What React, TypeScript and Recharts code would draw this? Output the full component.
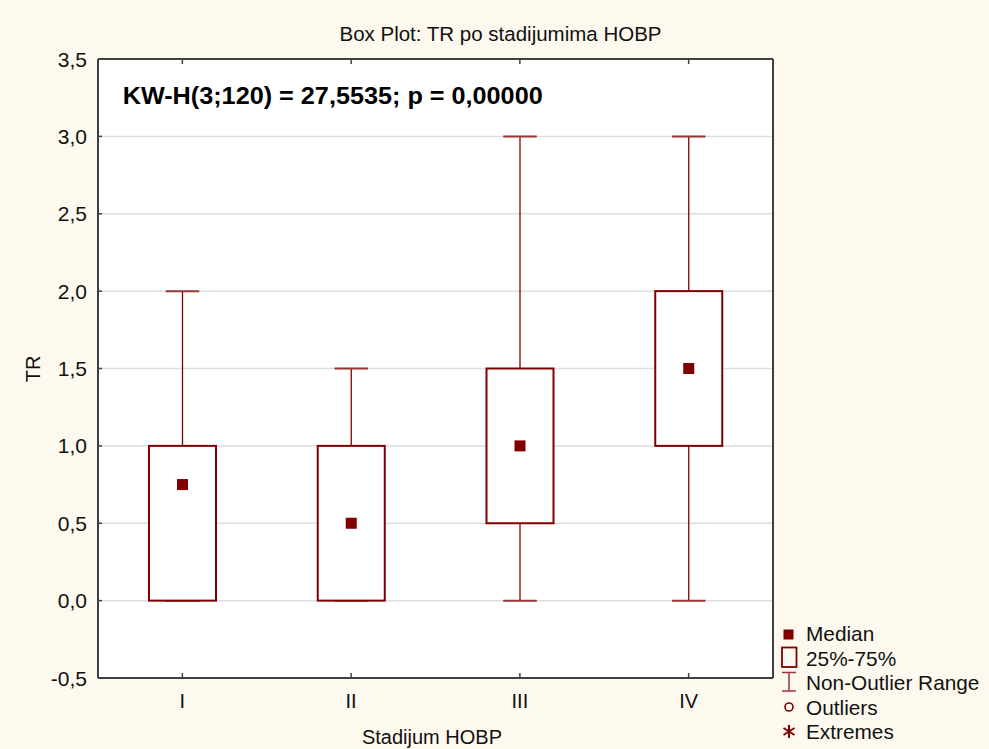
import React from 'react';
import { ComposedChart, Bar, XAxis, YAxis, CartesianGrid } from 'recharts';

const categories = ['I', 'II', 'III', 'IV'];
const mins = [0, 0, 0, 0];
const q1s = [0, 0, 0.5, 1.0];
const medians = [0.75, 0.5, 1.0, 1.5];
const q3s = [1.0, 1.0, 1.5, 2.0];
const maxs = [2.0, 1.5, 3.0, 3.0];
const yTicks = [-0.5, 0, 0.5, 1.0, 1.5, 2.0, 2.5, 3.0, 3.5];

const title = 'Box Plot: TR po stadijumima HOBP';
const statText = 'KW-H(3;120) = 27,5535; p = 0,00000';
const xLabel = 'Stadijum HOBP';
const yLabel = 'TR';
const legendItems = ['Median', '25%-75%', 'Non-Outlier Range', 'Outliers', 'Extremes'];

const data = categories.map((name, i) => ({
  name,
  min: mins[i],
  q1: q1s[i],
  median: medians[i],
  q3: q3s[i],
  max: maxs[i],
}));

const RED = '#800000';
const CAP = '#9a3535';
const AXIS = '#404040';
const FONT = '"Liberation Sans", Arial, sans-serif';
const fmt = (v: number) => v.toFixed(1).replace('.', ',');

function BoxShape(props: any) {
  const { x, y, width, height, payload } = props;
  const d = payload;
  const top = Math.min(y, y + height);
  const bottom = Math.max(y, y + height);
  const span = d.max - d.min;
  const per = span > 0 ? (bottom - top) / span : 0;
  const py = (v: number) => bottom - (v - d.min) * per;
  const cx = x + width / 2;
  const capW = width / 2;
  const yMax = py(d.max);
  const yQ3 = py(d.q3);
  const yQ1 = py(d.q1);
  const yMin = py(d.min);
  const yMed = py(d.median);
  return (
    <g>
      <line x1={cx} x2={cx} y1={yMax} y2={yQ3} stroke={RED} strokeWidth={1.3} />
      <line x1={cx} x2={cx} y1={yQ1} y2={yMin} stroke={RED} strokeWidth={1.3} />
      <line x1={cx - capW / 2} x2={cx + capW / 2} y1={yMax} y2={yMax} stroke={CAP} strokeWidth={2} />
      <line x1={cx - capW / 2} x2={cx + capW / 2} y1={yMin} y2={yMin} stroke={CAP} strokeWidth={2} />
      <rect x={x} y={yQ3} width={width} height={yQ1 - yQ3} fill="#ffffff" stroke={RED} strokeWidth={2} />
      <rect x={cx - 5.5} y={yMed - 5.5} width={11} height={11} fill={RED} />
    </g>
  );
}

function LeftTick(props: any) {
  const { x, y, payload } = props;
  return (
    <g>
      <text x={x - 11} y={y} dy={7.5} textAnchor="end" fontSize={21} fontFamily={FONT} fill="#111">
        {fmt(payload.value)}
      </text>
      <line x1={x} x2={x + 4} y1={y} y2={y} stroke={AXIS} strokeWidth={1.5} />
    </g>
  );
}

function RightTick(props: any) {
  const { x, y } = props;
  return <line x1={x} x2={x - 4} y1={y} y2={y} stroke={AXIS} strokeWidth={1.5} />;
}

function BottomTick(props: any) {
  const { x, y, payload } = props;
  return (
    <g>
      <text x={x} y={y + 30} textAnchor="middle" fontSize={20} fontFamily={FONT} fill="#111">
        {payload.value}
      </text>
      <line x1={x} x2={x} y1={y} y2={y - 5} stroke={AXIS} strokeWidth={1.5} />
    </g>
  );
}

function TopTick(props: any) {
  const { x, y } = props;
  return <line x1={x} x2={x} y1={y} y2={y + 5} stroke={AXIS} strokeWidth={1.5} />;
}

function Overlay() {
  const lx = 789;
  const baseY = 641;
  const step = 24.5;
  return (
    <svg
      width={989}
      height={749}
      style={{ position: 'absolute', left: 0, top: 0, pointerEvents: 'none' }}
      fontFamily={FONT}
    >
      <text x={500.5} y={41} textAnchor="middle" fontSize={20.5} fill="#111">{title}</text>
      <text x={122.7} y={104} fontSize={24} fontWeight="bold" fill="#000" textLength={420} lengthAdjust="spacingAndGlyphs">
        {statText}
      </text>
      <text x={432} y={744} textAnchor="middle" fontSize={20} fill="#111">{xLabel}</text>
      <text transform="translate(40,369) rotate(-90)" textAnchor="middle" fontSize={20} fill="#111">{yLabel}</text>
      <rect x={lx - 5.5} y={baseY - 11.5} width={10} height={10} fill={RED} />
      <rect x={lx - 7} y={baseY + step - 18} width={14.5} height={19.5} fill="none" stroke={RED} strokeWidth={1.8} />
      <g stroke={CAP} strokeWidth={1.5}>
        <line x1={lx - 7} x2={lx + 7} y1={baseY + 2 * step - 17.5} y2={baseY + 2 * step - 17.5} />
        <line x1={lx} x2={lx} y1={baseY + 2 * step - 17.5} y2={baseY + 2 * step + 1} />
        <line x1={lx - 7} x2={lx + 7} y1={baseY + 2 * step + 1} y2={baseY + 2 * step + 1} />
      </g>
      <circle cx={lx} cy={baseY + 3 * step - 7.5} r={4} fill="none" stroke={RED} strokeWidth={1.6} />
      <g stroke={RED} strokeWidth={2}>
        <line x1={lx} x2={lx} y1={baseY + 4 * step - 14} y2={baseY + 4 * step - 1} />
        <line x1={lx - 5.5} x2={lx + 5.5} y1={baseY + 4 * step - 11} y2={baseY + 4 * step - 4} />
        <line x1={lx - 5.5} x2={lx + 5.5} y1={baseY + 4 * step - 4} y2={baseY + 4 * step - 11} />
      </g>
      {legendItems.map((t, i) => (
        <text key={t} x={806} y={baseY + i * step} fontSize={20.8} fill="#111">{t}</text>
      ))}
    </svg>
  );
}

export default function App() {
  return (
    <div style={{ position: 'absolute', left: 0, top: 0, width: 989, height: 749, background: '#FDF9EE', overflow: 'hidden' }}>
      <ComposedChart
        width={989}
        height={749}
        data={data}
        margin={{ top: 58, right: 215, bottom: 0, left: 0 }}
      >
        <CartesianGrid horizontal vertical={false} fill="#ffffff" stroke="#dedede" strokeWidth={1.5} />
        <XAxis
          dataKey="name"
          height={71}
          tickSize={0}
          tickMargin={0}
          tickLine={false}
          axisLine={{ stroke: AXIS, strokeWidth: 2 }}
          tick={<BottomTick />}
        />
        <XAxis
          xAxisId="top"
          orientation="top"
          dataKey="name"
          height={1}
          tickSize={0}
          tickMargin={0}
          tickLine={false}
          axisLine={{ stroke: AXIS, strokeWidth: 2 }}
          tick={<TopTick />}
        />
        <YAxis
          type="number"
          domain={[-0.5, 3.5]}
          ticks={yTicks}
          width={98}
          tickSize={0}
          tickMargin={0}
          tickLine={false}
          interval={0}
          axisLine={{ stroke: AXIS, strokeWidth: 2 }}
          tick={<LeftTick />}
        />
        <YAxis
          yAxisId="right"
          orientation="right"
          type="number"
          domain={[-0.5, 3.5]}
          ticks={yTicks}
          width={1}
          tickSize={0}
          tickMargin={0}
          tickLine={false}
          interval={0}
          axisLine={{ stroke: AXIS, strokeWidth: 2 }}
          tick={<RightTick />}
        />
        <Bar
          dataKey={(d: any) => [d.min, d.max]}
          barSize={67}
          isAnimationActive={false}
          shape={(p: any) => <BoxShape {...p} />}
        />
      </ComposedChart>
      <Overlay />
    </div>
  );
}
